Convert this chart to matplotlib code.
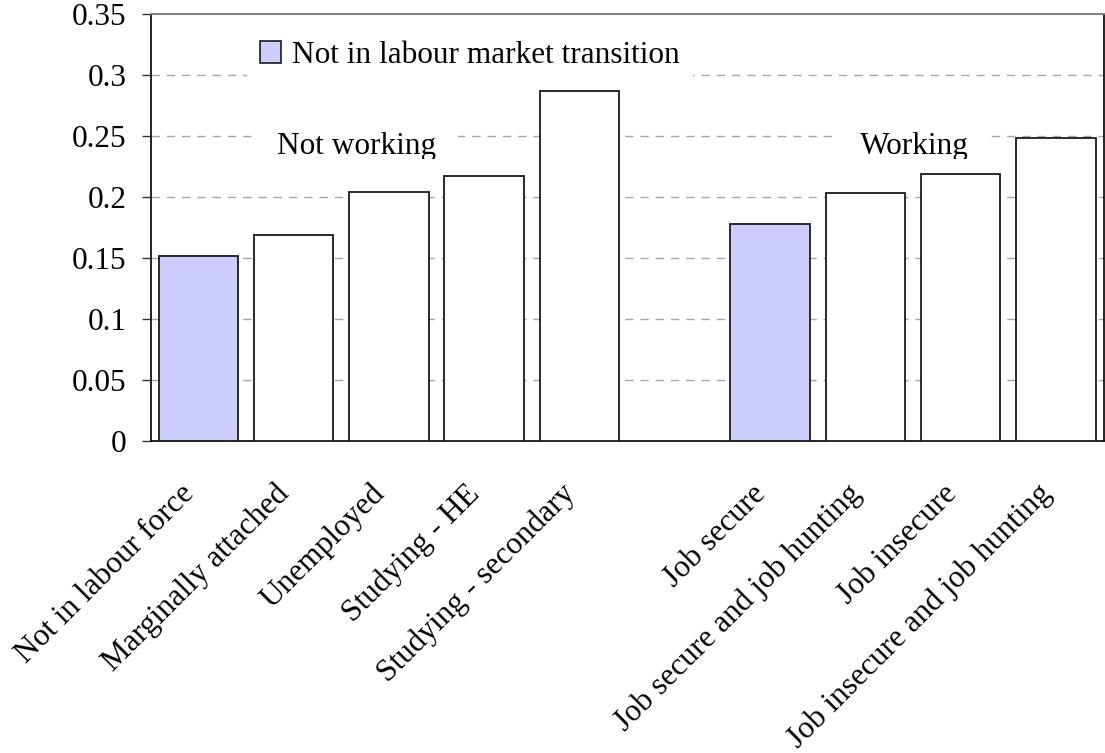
import matplotlib
matplotlib.use("Agg")
import matplotlib.pyplot as plt
from matplotlib.patches import Patch
from matplotlib.transforms import Bbox, TransformedBbox, blended_transform_factory, ScaledTranslation

# --- data -------------------------------------------------------------
not_working_cats = ["Not in labour force", "Marginally attached", "Unemployed",
                    "Studying - HE", "Studying - secondary"]
not_working_vals = [0.152, 0.169, 0.204, 0.2175, 0.287]

working_cats = ["Job secure", "Job secure and job hunting", "Job insecure",
                "Job insecure and job hunting"]
working_vals = [0.178, 0.203, 0.219, 0.248]

# first category of each group is the "not in transition" reference
group_names = ["Not working", "Working"]
legend_label = "Not in labour market transition"

ytick_vals = [0, 0.05, 0.10, 0.15, 0.20, 0.25, 0.30, 0.35]
ytick_labels = ["0", "0.05", "0.1", "0.15", "0.2", "0.25", "0.3", "0.35"]

# --- styling ----------------------------------------------------------
plt.rcParams["font.family"] = ["Liberation Serif", "DejaVu Serif"]
FS = 22.5
REF_COLOR = "#ccccff"
EDGE = "#1a1a1a"

fig = plt.figure(figsize=(11.05, 7.53), dpi=100)
ax = fig.add_axes([0.1364, 0.4143, 0.8623, 0.5671])

# slot layout: the two groups separated by one empty slot
groups = [(not_working_cats, not_working_vals), (working_cats, working_vals)]
xpos, labels, vals, colors = [], [], [], []
slot = 0
for gi, (cats, vv) in enumerate(groups):
    for i, (c, v) in enumerate(zip(cats, vv)):
        xpos.append(slot)
        labels.append(c)
        vals.append(v)
        colors.append(REF_COLOR if i == 0 else "white")
        slot += 1
    slot += 1

ax.bar(xpos, vals, width=0.835, color=colors, edgecolor=EDGE, linewidth=1.3, zorder=3)

ax.set_xlim(-0.5, 9.5)
ax.set_ylim(0, 0.35)
ax.set_yticks(ytick_vals)
ax.set_yticklabels(ytick_labels, fontsize=FS)
ax.tick_params(axis="y", direction="out", length=6.5, width=1, pad=11, color="#333333")

# horizontal dashed gridlines
ax.set_axisbelow(True)
for yv in ytick_vals[1:-1]:
    ax.axhline(yv, color="#a6a6a6", linewidth=1.0, linestyle=(0, (6, 5)), zorder=1)

for side in ["left", "bottom", "right"]:
    ax.spines[side].set_color("black")
    ax.spines[side].set_linewidth(1.2)
ax.spines["top"].set_color("#808080")
ax.spines["top"].set_linewidth(1.4)

# category labels, rotated
ax.set_xticks(xpos)
ax.set_xticklabels([])
ax.tick_params(axis="x", length=0)
label_tr = blended_transform_factory(ax.transData, ax.transAxes) + \
    ScaledTranslation(-0.03, -0.54, fig.dpi_scale_trans)
for x, lab in zip(xpos, labels):
    ax.text(x, 0, lab, transform=label_tr, rotation=45, rotation_mode="anchor",
            ha="right", va="baseline", fontsize=FS)

# group headings
group_x = [1.66, 7.51]
clip = TransformedBbox(Bbox([[-0.5, 0.2311], [9.5, 0.35]]), ax.transData)
for gx, name in zip(group_x, group_names):
    t = ax.text(gx, 0.235, name, ha="center", va="baseline", fontsize=FS, zorder=4,
                bbox=dict(boxstyle="square,pad=0.7", facecolor="white", edgecolor="none"))
    t.set_clip_box(clip)
    t.set_clip_on(True)

# legend
handle = Patch(facecolor=REF_COLOR, edgecolor=EDGE, linewidth=1.2, label=legend_label)
leg = ax.legend(handles=[handle], loc="upper left",
                bbox_to_anchor=(247 / 1105, 1 - 28.5 / 753), bbox_transform=fig.transFigure,
                fontsize=FS, frameon=True, fancybox=False, framealpha=1,
                facecolor="white", edgecolor="none", borderpad=0.4, borderaxespad=0,
                handlelength=0.7, handleheight=0.7, handletextpad=0.35)
leg.set_zorder(5)

fig.savefig("out.png", dpi=100)
